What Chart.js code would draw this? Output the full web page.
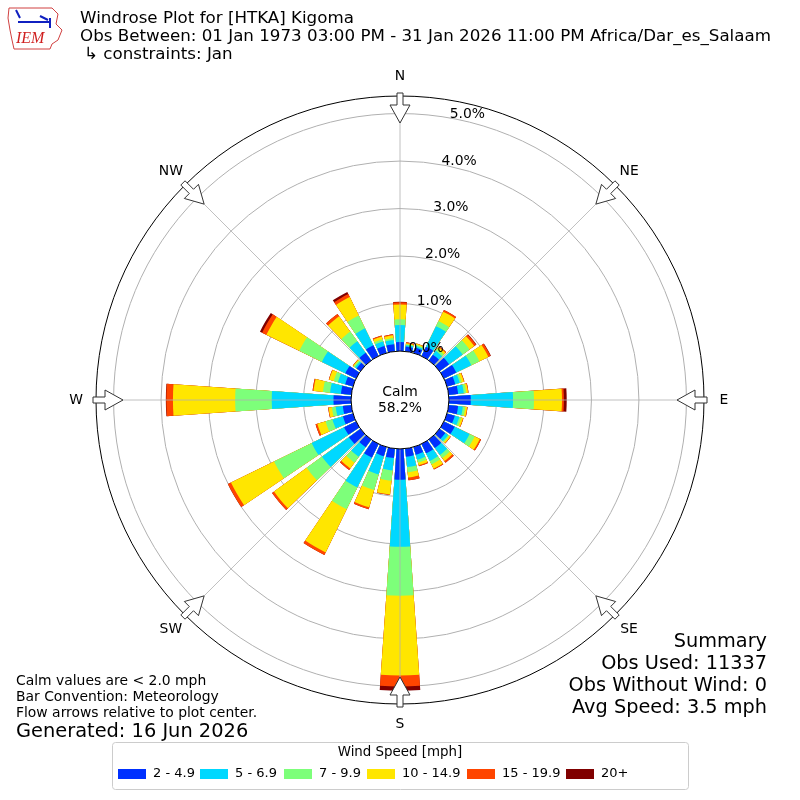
<!DOCTYPE html>
<html>
<head>
<meta charset="utf-8">
<script src="https://cdn.jsdelivr.net/npm/chart.js@4.4.1/dist/chart.umd.min.js"></script>
<style>
  html, body { margin: 0; padding: 0; background: #fff; }
  #wrap { width: 800px; height: 800px; }
</style>
</head>
<body>
<div id="wrap"><canvas id="rose" width="800" height="800"></canvas></div>
<script>
// ── Data: percent of obs per direction (every 10 deg from N) and speed bin ──
const directions = [0,10,20,30,40,50,60,70,80,90,100,110,120,130,140,150,160,170,
                    180,190,200,210,220,230,240,250,260,270,280,290,300,310,320,330,340,350];
const speedBins = ['2 - 4.9', '5 - 6.9', '7 - 9.9', '10 - 14.9', '15 - 19.9', '20+'];
const binColors = ['#0030ff', '#00d8ff', '#7dff7a', '#ffe600', '#ff4500', '#800000'];

const bin2to5   = [.19,.10,.12,.22,.15,.25,.29,.18,.20,.46,.20,.17,.25,.15,.22,.22,.17,.17,.65,.20,.20,.32,.20,.30,.28,.22,.18,.37,.22,.17,.25,.10,.20,.25,.15,.15];
const bin5to7   = [.36,.03,.03,.48,.10,.35,.35,.10,.12,.89,.10,.10,.35,.07,.18,.18,.11,.22,1.41,.26,.40,.70,.25,.70,.76,.23,.15,1.30,.23,.16,.55,.04,.30,.40,.10,.09];
const bin7to10  = [.12,.02,.03,.12,.05,.18,.19,.04,.05,.44,.05,.04,.12,.03,.08,.08,.06,.11,1.03,.22,.34,.51,.15,.40,.88,.15,.08,.77,.15,.09,.53,.03,.25,.30,.05,.04];
const bin10to15 = [.31,.02,.02,.22,.05,.12,.21,.05,.04,.59,.04,.04,.12,.03,.08,.10,.06,.11,1.68,.29,.38,1.01,.15,.85,1.01,.18,.07,1.31,.20,.10,.77,.02,.40,.43,.06,.06];
const bin15to20 = [.05,.02,.01,.04,.02,.05,.05,.01,.01,.04,.01,.01,.03,.01,.04,.02,.02,.06,.23,.01,.04,.06,.04,.05,.07,.04,.01,.14,.02,.01,.10,.01,.06,.07,.02,.02];
const bin20up   = [.01,0,0,0,0,.01,.01,0,0,.06,0,0,0,0,0,0,0,0,.09,0,0,0,0,0,0,0,0,.01,0,0,.05,0,0,.05,0,0];
const binValues = [bin2to5, bin5to7, bin7to10, bin10to15, bin15to20, bin20up];

const radialTicks = [0, 1, 2, 3, 4, 5];
const compassLabels = ['N', 'NE', 'E', 'SE', 'S', 'SW', 'W', 'NW'];
const calmPct = '58.2%';
const R_MIN = -1.03;   // leaves room for the calm circle
const R_MAX = 5.37;

const FONT = "'DejaVu Sans', sans-serif";

// ── Build stacked (cumulative) datasets; each direction gets a bar slot + a gap slot ──
const labels = [];
directions.forEach(d => { labels.push(d + '°'); labels.push(''); });

const datasets = speedBins.map((name, b) => {
    const data = [];
    directions.forEach((d, i) => {
        let cum = 0;
        for (let k = 0; k <= b; k++) cum += binValues[k][i];
        data.push(cum);
        data.push(R_MIN);
    });
    return {
        label: name,
        data,
        backgroundColor: ctx => ctx.dataIndex % 2 ? 'rgba(0,0,0,0)' : binColors[b],
        borderWidth: 0,
        angle: ctx => ctx.dataIndex % 2 ? 2 : 8
    };
});

// ── Decorations: angle lines, calm circle, tick labels, arrows, text, legend ──
const rosePlugin = {
    id: 'rose',
    afterDraw(chart) {
        const ctx = chart.ctx;
        const sc = chart.scales.r;
        const cx = sc.xCenter, cy = sc.yCenter, R = sc.drawingArea;
        const r0 = sc.getDistanceFromCenterForValue(0);
        const pt = (deg, rad) => {
            const a = deg * Math.PI / 180;
            return [cx + rad * Math.sin(a), cy - rad * Math.cos(a)];
        };
        ctx.save();

        // angle lines
        ctx.strokeStyle = '#b0b0b0';
        ctx.lineWidth = 0.8;
        for (let k = 0; k < 8; k++) {
            const [x1, y1] = pt(k * 45, r0);
            const [x2, y2] = pt(k * 45, R);
            ctx.beginPath(); ctx.moveTo(x1, y1); ctx.lineTo(x2, y2); ctx.stroke();
        }

        // calm circle
        ctx.beginPath();
        ctx.arc(cx, cy, r0, 0, Math.PI * 2);
        ctx.fillStyle = '#fff'; ctx.fill();
        ctx.strokeStyle = '#000'; ctx.lineWidth = 1; ctx.stroke();
        ctx.fillStyle = '#000';
        ctx.font = '13.9px ' + FONT;
        ctx.textAlign = 'center'; ctx.textBaseline = 'middle';
        ctx.fillText('Calm', cx, cy - 8);
        ctx.fillText(calmPct, cx, cy + 8);

        // radial tick labels
        ctx.textAlign = 'left'; ctx.textBaseline = 'alphabetic';
        radialTicks.forEach(v => {
            const [x, y] = pt(10, sc.getDistanceFromCenterForValue(v));
            ctx.fillText(v.toFixed(1) + '%', x, y);
        });

        // flow arrows + compass labels
        compassLabels.forEach((lab, k) => {
            const deg = k * 45;
            const a = deg * Math.PI / 180;
            const ux = Math.sin(a), uy = -Math.cos(a);
            const vx = Math.cos(a), vy = Math.sin(a);
            const P = (u, v) => [cx + ux * u + vx * v, cy + uy * u + vy * v];
            const poly = [P(R + 3, -3), P(R - 9, -3), P(R - 9, -10), P(R - 27, 0),
                          P(R - 9, 10), P(R - 9, 3), P(R + 3, 3)];
            ctx.beginPath();
            poly.forEach(([x, y], i) => i ? ctx.lineTo(x, y) : ctx.moveTo(x, y));
            ctx.closePath();
            ctx.fillStyle = '#fff'; ctx.fill();
            ctx.strokeStyle = '#333'; ctx.lineWidth = 1; ctx.stroke();

            const [lx, ly] = pt(deg, R + 20);
            ctx.fillStyle = '#000';
            ctx.font = '13.9px ' + FONT;
            ctx.textAlign = 'center'; ctx.textBaseline = 'middle';
            ctx.fillText(lab, lx, ly);
        });

        // title block
        ctx.fillStyle = '#000';
        ctx.textAlign = 'left'; ctx.textBaseline = 'middle';
        ctx.font = '16.7px ' + FONT;
        ctx.fillText('Windrose Plot for [HTKA] Kigoma', 80, 19);
        ctx.fillText('Obs Between: 01 Jan 1973 03:00 PM - 31 Jan 2026 11:00 PM Africa/Dar_es_Salaam', 80, 37);
        ctx.fillText('\u21b3 constraints: Jan', 84, 55);

        // notes bottom-left
        ctx.textBaseline = 'alphabetic';
        ctx.font = '13.9px ' + FONT;
        ctx.fillText('Calm values are < 2.0 mph', 16, 685);
        ctx.fillText('Bar Convention: Meteorology', 16, 701);
        ctx.fillText('Flow arrows relative to plot center.', 16, 717);
        ctx.font = '19.4px ' + FONT;
        ctx.fillText('Generated: 16 Jun 2026', 16, 737);

        // summary bottom-right
        ctx.textAlign = 'right';
        ctx.font = '19.3px ' + FONT;
        ctx.fillText('Summary', 767, 647);
        ctx.fillText('Obs Used: 11337', 767, 669);
        ctx.fillText('Obs Without Wind: 0', 767, 691);
        ctx.fillText('Avg Speed: 3.5 mph', 767, 713);

        // legend box
        ctx.strokeStyle = '#cccccc'; ctx.lineWidth = 1;
        ctx.beginPath();
        ctx.roundRect(112.5, 742.5, 576, 47, 3);
        ctx.fillStyle = 'rgba(255,255,255,0.8)'; ctx.fill(); ctx.stroke();
        ctx.fillStyle = '#000';
        ctx.textAlign = 'center'; ctx.textBaseline = 'middle';
        ctx.font = '13.4px ' + FONT;
        ctx.fillText('Wind Speed [mph]', 400, 753);
        const patchX = [118, 200, 284, 367, 467, 566];
        ctx.textAlign = 'left';
        ctx.font = '13px ' + FONT;
        speedBins.forEach((name, b) => {
            ctx.fillStyle = binColors[b];
            ctx.fillRect(patchX[b], 769, 28, 10);
            ctx.fillStyle = '#000';
            ctx.fillText(name, patchX[b] + 35, 774);
        });

        // IEM logo (rough)
        ctx.strokeStyle = '#d04040'; ctx.lineWidth = 1;
        ctx.beginPath();
        ctx.moveTo(9, 8); ctx.lineTo(52, 8); ctx.lineTo(58, 14); ctx.lineTo(56, 24);
        ctx.lineTo(62, 30); ctx.lineTo(58, 40); ctx.lineTo(52, 44); ctx.lineTo(50, 49);
        ctx.lineTo(14, 49); ctx.lineTo(12, 40); ctx.lineTo(10, 30); ctx.lineTo(8, 18);
        ctx.closePath(); ctx.stroke();
        ctx.strokeStyle = '#1020c0'; ctx.lineWidth = 2;
        ctx.beginPath(); ctx.moveTo(18, 22); ctx.lineTo(50, 22); ctx.moveTo(50, 18); ctx.lineTo(50, 28);
        ctx.moveTo(40, 16); ctx.lineTo(48, 20); ctx.moveTo(16, 10); ctx.lineTo(20, 18); ctx.stroke();
        ctx.fillStyle = '#d02020';
        ctx.font = 'italic 16px "Liberation Serif", serif';
        ctx.textAlign = 'left';
        ctx.fillText('IEM', 16, 39);

        ctx.restore();
    }
};

new Chart(document.getElementById('rose'), {
    type: 'polarArea',
    data: { labels, datasets },
    options: {
        responsive: false,
        animation: false,
        layout: { padding: 96 },
        plugins: { legend: { display: false }, tooltip: { enabled: false } },
        scales: {
            r: {
                min: R_MIN,
                max: R_MAX,
                startAngle: -4,
                z: 1,
                afterBuildTicks: scale => {
                    scale.ticks = radialTicks.concat([R_MAX]).map(v => ({ value: v }));
                },
                ticks: { display: false },
                angleLines: { display: false },
                pointLabels: { display: false },
                grid: {
                    circular: true,
                    lineWidth: 1,
                    color: ctx => ctx.tick && ctx.tick.value === R_MAX ? '#000000' : '#b0b0b0'
                }
            }
        }
    },
    plugins: [rosePlugin]
});
</script>
</body>
</html>
